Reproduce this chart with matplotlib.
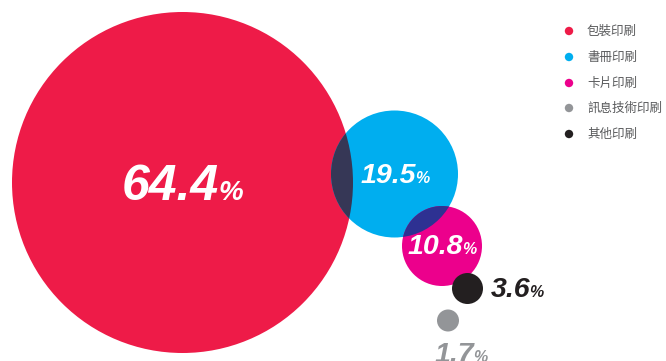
import matplotlib
matplotlib.use("Agg")
import matplotlib.pyplot as plt
from matplotlib.patches import Circle

# data
categories = ['包裝印刷', '書冊印刷', '卡片印刷', '訊息技術印刷', '其他印刷']
shares = [64.4, 19.5, 10.8, 1.7, 3.6]
colors = ['#ee1b48', '#00aeef', '#ec008c', '#939598', '#231f20']

# bubble layout (pixel space), order follows categories
centers = [(182.5, 182.5), (394.5, 174), (442, 246), (448, 320.5), (467.5, 288.5)]
radii = [170.5, 63.5, 40, 11, 15.5]
# where the number ends / % starts, and the text baseline
label_pos = [(219, 200), (416, 183), (463, 254), (474, 362), (530, 297)]
num_size = [36, 20.5, 20.5, 20.5, 20.5]
pct_size = [20, 11.5, 11.5, 11.5, 11.5]
label_colors = ['white', 'white', 'white', '#939598', '#231f20']
# darker tone where neighbouring bubbles overlap
overlaps = {(0, 1): '#363756', (1, 2): '#2e3192'}

W, H = 666, 361
fig = plt.figure(figsize=(W / 100, H / 100), dpi=100)
ax = fig.add_axes([0, 0, 1, 1])
ax.set_xlim(0, W)
ax.set_ylim(H, 0)
ax.set_aspect('equal')
ax.axis('off')

circles = []
for c, r, col in zip(centers, radii, colors):
    p = Circle(c, r, facecolor=col, edgecolor='none', zorder=1)
    ax.add_patch(p)
    circles.append(p)

for (i, j), col in overlaps.items():
    p = Circle(centers[j], radii[j], facecolor=col, edgecolor='none', zorder=2)
    ax.add_patch(p)
    p.set_clip_path(circles[i])

num_font = ['Liberation Sans', 'DejaVu Sans']
for v, (x, y), ns, ps, tc in zip(shares, label_pos, num_size, pct_size, label_colors):
    ax.text(x, y, f'{v:.1f}', ha='right', va='baseline', fontsize=ns,
            fontweight='bold', fontstyle='italic', color=tc, family=num_font, zorder=3)
    ax.text(x - 0.5, y, '%', ha='left', va='baseline', fontsize=ps,
            fontweight='bold', fontstyle='italic', color=tc, family=num_font, zorder=3)

# legend
leg_y = [31, 57, 83, 108, 134]
for cat, col, y in zip(categories, colors, leg_y):
    ax.add_patch(Circle((569, y), 4.2, facecolor=col, edgecolor='none'))
    ax.text(587, y, cat, ha='left', va='center', fontsize=9, color='#58595b',
            family=['Noto Sans CJK TC', 'DejaVu Sans'])

fig.savefig('out.png', dpi=100)
